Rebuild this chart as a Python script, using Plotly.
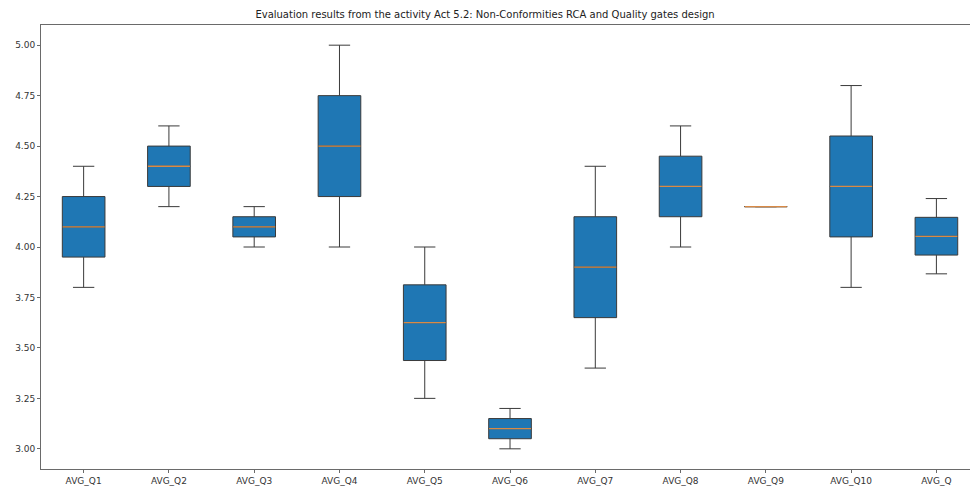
import plotly.graph_objects as go

categories = ["AVG_Q1", "AVG_Q2", "AVG_Q3", "AVG_Q4", "AVG_Q5", "AVG_Q6",
              "AVG_Q7", "AVG_Q8", "AVG_Q9", "AVG_Q10", "AVG_Q"]
lower_whisker = [3.80, 4.20, 4.00, 4.00, 3.25, 3.00, 3.40, 4.00, 4.20, 3.80, 3.867]
q1_values     = [3.95, 4.30, 4.05, 4.25, 3.4375, 3.05, 3.65, 4.15, 4.20, 4.05, 3.96]
medians       = [4.10, 4.40, 4.10, 4.50, 3.625, 3.10, 3.90, 4.30, 4.20, 4.30, 4.053]
q3_values     = [4.25, 4.50, 4.15, 4.75, 3.8125, 3.15, 4.15, 4.45, 4.20, 4.55, 4.147]
upper_whisker = [4.40, 4.60, 4.20, 5.00, 4.00, 3.20, 4.40, 4.60, 4.20, 4.80, 4.24]
y_ticks = [3.00, 3.25, 3.50, 3.75, 4.00, 4.25, 4.50, 4.75, 5.00]

title = "Evaluation results from the activity Act 5.2: Non-Conformities RCA and Quality gates design"

positions = list(range(1, len(categories) + 1))
font_family = "DejaVu Sans"

fig = go.Figure()
fig.add_trace(go.Box(
    x=positions,
    q1=q1_values, median=medians, q3=q3_values,
    lowerfence=lower_whisker, upperfence=upper_whisker,
    width=0.5, whiskerwidth=0.5,
    fillcolor="#1f77b4",
    line=dict(color="#3a3a3a", width=1),
    boxpoints=False,
    showlegend=False,
    hoverinfo="skip",
))
fig.add_trace(go.Scatter(
    x=positions, y=medians, mode="markers",
    marker=dict(symbol="line-ew", size=30, line=dict(color="#d98a45", width=1.3)),
    showlegend=False, hoverinfo="skip",
))

fig.update_layout(
    width=970, height=486,
    margin=dict(l=41, r=0, t=25, b=17),
    paper_bgcolor="white", plot_bgcolor="white",
    font=dict(family=font_family, size=9, color="#333333"),
    title=dict(text=title, x=0.5, xref="container", xanchor="center",
               y=1 - 14 / 486, yref="container", yanchor="middle",
               font=dict(family=font_family, size=10, color="#222222")),
)
fig.update_xaxes(
    range=[0.5, 11.394], tickmode="array", tickvals=positions, ticktext=categories,
    showgrid=False, zeroline=False,
    showline=True, linecolor="#6a6a6a", linewidth=1, mirror=True,
    ticks="outside", ticklen=3, tickcolor="#6a6a6a", tickwidth=1,
    tickfont=dict(size=9, family=font_family, color="#333333"),
)
fig.update_yaxes(
    range=[2.9, 5.1], tickmode="array", tickvals=y_ticks,
    ticktext=[f"{v:.2f}" for v in y_ticks],
    showgrid=False, zeroline=False,
    showline=True, linecolor="#6a6a6a", linewidth=1, mirror=False,
    ticks="outside", ticklen=3, tickcolor="#6a6a6a", tickwidth=1,
    tickfont=dict(size=9, family=font_family, color="#333333"),
)

fig.write_html("out.html")
